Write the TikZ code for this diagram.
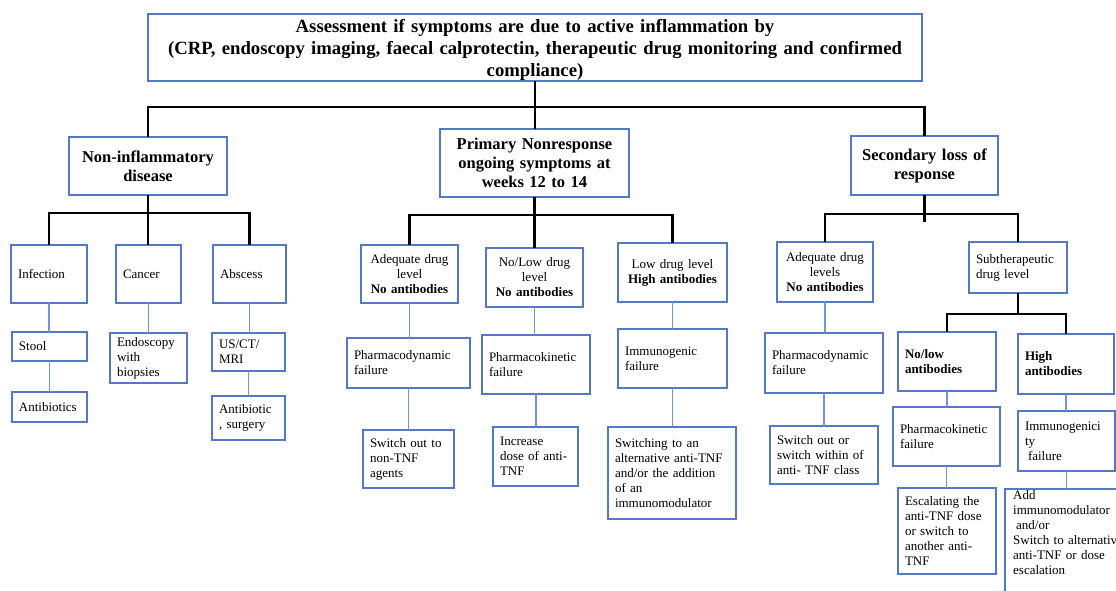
\documentclass[tikz,border=0pt]{standalone}
\usepackage{fontspec}
\setmainfont{Liberation Serif}
\definecolor{boxblue}{RGB}{84,121,196}
\definecolor{linkblue}{RGB}{112,148,212}
\begin{document}
\begin{tikzpicture}[x=1pt,y=-1pt,
  bx/.style={draw=boxblue, line width=1.3pt, inner ysep=0pt, outer sep=0pt, font=\fontsize{13}{15}\selectfont},
  lbx/.style={bx, align=left, inner xsep=7pt},
  cbx/.style={bx, align=center, inner xsep=3pt},
  head/.style={bx, align=center, inner xsep=4pt, font=\bfseries\fontsize{16.5}{19}\selectfont},
  blk/.style={line width=2.4pt, black},
  lnk/.style={line width=1.3pt, linkblue},
]
\clip (0,0) rectangle (1116,590);
\fill[white] (0,0) rectangle (1116,590);

% top
\node[bx, minimum width=774pt, minimum height=67pt] (top) at (535,47.5) {};
\node[align=center, inner sep=0pt, text width=770pt, font=\bfseries\fontsize{18.7}{21.8}\selectfont] (toptxt) at (535,50)
  {Assessment if symptoms are due to active inflammation by\\(CRP, endoscopy imaging, faecal calprotectin, therapeutic drug monitoring and confirmed\\compliance)};

% level 2
\node[head, minimum width=158pt, minimum height=58pt, text width=150pt] (n1) at (148,166) {Non-inflammatory\\disease};
\node[head, minimum width=189pt, minimum height=68pt, text width=181pt] (n2) at (534.5,163) {Primary Nonresponse\\ongoing symptoms at\\weeks 12 to 14};
\node[head, minimum width=147pt, minimum height=59pt, text width=139pt] (n3) at (924.5,165.5) {Secondary loss of\\response};

% left column
\node[lbx, minimum width=76pt, minimum height=58pt, text width=62pt] (inf) at (49,274) {Infection};
\node[lbx, minimum width=65pt, minimum height=58pt, text width=51pt] (can) at (148.5,274) {Cancer};
\node[lbx, minimum width=73pt, minimum height=58pt, text width=59pt] (abs) at (249.5,274) {Abscess};
\node[lbx, minimum width=75pt, minimum height=29pt, text width=61pt] (stool) at (49.5,346.5) {Stool};
\node[lbx, minimum width=75pt, minimum height=30pt, text width=61pt] (antib) at (49.5,407) {Antibiotics};
\node[lbx, minimum width=77pt, minimum height=50pt, text width=63pt] (endo) at (148.5,358) {Endoscopy\\with\\biopsies};
\node[lbx, minimum width=73pt, minimum height=38pt, text width=59pt] (us) at (248.5,352) {US/CT/\\MRI};
\node[lbx, minimum width=73pt, minimum height=44pt, text width=59pt] (asurg) at (248.5,418) {Antibiotic\\, surgery};

% middle column
\node[cbx, minimum width=97pt, minimum height=58pt, text width=91pt] (ad1) at (409.5,274) {Adequate drug\\level\\\textbf{No antibodies}};
\node[cbx, minimum width=97pt, minimum height=59pt, text width=91pt] (nl) at (534.5,277.5) {No/Low drug\\level\\\textbf{No antibodies}};
\node[cbx, minimum width=109pt, minimum height=59pt, text width=103pt] (ld) at (672.5,272.5) {Low drug level\\\textbf{High antibodies}};
\node[lbx, minimum width=123pt, minimum height=50pt, text width=109pt] (pd1) at (408.5,363) {Pharmacodynamic\\failure};
\node[lbx, minimum width=108pt, minimum height=59pt, text width=94pt] (pk1) at (536,364.5) {Pharmacokinetic\\failure};
\node[lbx, minimum width=109pt, minimum height=59pt, text width=95pt] (im1) at (672.5,358.5) {Immunogenic\\failure};
\node[lbx, minimum width=91pt, minimum height=58pt, text width=77pt] (sw1) at (408.5,459) {Switch out to\\non-TNF\\agents};
\node[lbx, minimum width=85pt, minimum height=59pt, text width=71pt] (inc) at (535.5,456.5) {Increase\\dose of anti-\\TNF};
\node[lbx, minimum width=128pt, minimum height=92pt, text width=114pt] (swi) at (672,473) {Switching to an\\alternative anti-TNF\\and/or the addition\\of an\\immunomodulator};

% right column
\node[cbx, minimum width=96pt, minimum height=60pt, text width=90pt] (ad2) at (825,272) {Adequate drug\\levels\\\textbf{No antibodies}};
\node[lbx, minimum width=98pt, minimum height=51pt, text width=84pt] (sub) at (1018,267.5) {Subtherapeutic\\drug level};
\node[lbx, minimum width=118pt, minimum height=60pt, text width=104pt] (pd2) at (824,363) {Pharmacodynamic\\failure};
\node[lbx, minimum width=108pt, minimum height=58pt, text width=94pt] (sw2) at (824,455) {Switch out or\\switch within of\\anti- TNF class};
\node[lbx, minimum width=98pt, minimum height=59pt, text width=84pt, font=\bfseries\fontsize{13}{15}\selectfont] (nla) at (947,361.5) {No/low\\antibodies};
\node[lbx, minimum width=96pt, minimum height=60pt, text width=82pt, font=\bfseries\fontsize{13}{15}\selectfont] (hia) at (1066,364) {High\\antibodies};
\node[lbx, minimum width=107pt, minimum height=59pt, text width=93pt] (pk2) at (946.5,436.5) {Pharmacokinetic\\failure};
\node[lbx, minimum width=97pt, minimum height=60pt, text width=83pt] (img) at (1066.5,441) {Immunogenici\\ty\\\hspace*{3pt}failure};
\node[lbx, minimum width=98pt, minimum height=86pt, text width=84pt] (esc) at (947,531) {Escalating the\\anti-TNF dose\\or switch to\\another anti-\\TNF};
\node[bx, minimum width=130pt, minimum height=121pt] (addbox) at (1070,549.5) {};
\node[anchor=north west, inner sep=0pt, align=left, text width=130pt, font=\fontsize{13}{15}\selectfont] (addtxt) at (1013,490) {Add\\immunomodulator\\\hspace*{3pt}and/or\\Switch to alternative\\anti-TNF or dose\\escalation};

% black tree connectors
\coordinate (b0) at (535,107);
\coordinate (b1) at (148,213);
\coordinate (b2) at (534.5,215);
\coordinate (b3) at (924.5,214);
\coordinate (b3t) at (924.5,222);
\coordinate (b4) at (1018,314);
\draw[blk] (top.south) -- (top.south |- n2.north);
\draw[blk] (n1.north) -- (n1.north |- b0) -- (n3.north |- b0) -- (n3.north);
\draw[blk] (n1.south) -- (n1.south |- can.north);
\draw[blk] (inf.north) -- (inf.north |- b1) -- (abs.north |- b1) -- (abs.north);
\draw[blk] (n2.south) -- (n2.south |- nl.north);
\draw[blk] (ad1.north) -- (ad1.north |- b2) -- (ld.north |- b2) -- (ld.north);
\draw[blk] (n3.south) -- (n3.south |- b3t);
\draw[blk] (ad2.north) -- (ad2.north |- b3) -- (sub.north |- b3) -- (sub.north);
\draw[blk] (sub.south) -- (sub.south |- b4);
\draw[blk] (nla.north) -- (nla.north |- b4) -- (hia.north |- b4) -- (hia.north);

% blue chain connectors
\draw[lnk] (inf.south) -- (inf.south |- stool.north);
\draw[lnk] (stool.south) -- (stool.south |- antib.north);
\draw[lnk] (can.south) -- (can.south |- endo.north);
\draw[lnk] (abs.south) -- (abs.south |- us.north);
\draw[lnk] (us.south) -- (us.south |- asurg.north);
\draw[lnk] (ad1.south) -- (ad1.south |- pd1.north);
\draw[lnk] (pd1.south) -- (pd1.south |- sw1.north);
\draw[lnk] (nl.south) -- (nl.south |- pk1.north);
\draw[lnk] (pk1.south) -- (pk1.south |- inc.north);
\draw[lnk] (ld.south) -- (ld.south |- im1.north);
\draw[lnk] (im1.south) -- (im1.south |- swi.north);
\draw[lnk] (ad2.south) -- (ad2.south |- pd2.north);
\draw[lnk] (pd2.south) -- (pd2.south |- sw2.north);
\draw[lnk] (nla.south) -- (nla.south |- pk2.north);
\draw[lnk] (pk2.south) -- (pk2.south |- esc.north);
\draw[lnk] (hia.south) -- (hia.south |- img.north);
\draw[lnk] (img.south) -- (img.south |- addbox.north);
\end{tikzpicture}
\end{document}
